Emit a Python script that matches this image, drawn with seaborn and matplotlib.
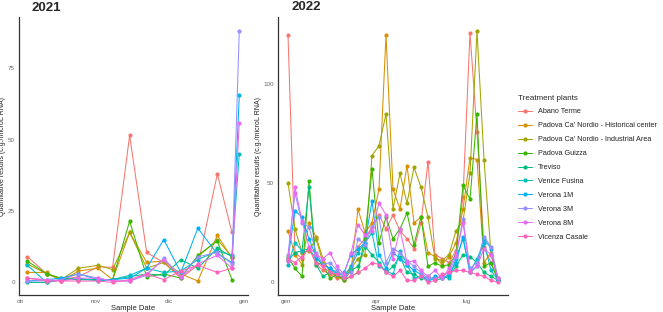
import pandas as pd
import numpy as np
import matplotlib
matplotlib.use("Agg")
import matplotlib.pyplot as plt
import seaborn as sns

# plants and colours (ggplot hue palette)
plants = ["Abano Terme", "Padova Ca' Nordio - Historical center",
          "Padova Ca' Nordio - Industrial Area", "Padova Guizza", "Treviso",
          "Venice Fusina", "Verona 1M", "Verona 3M", "Verona 8M", "Vicenza Casale"]
colors = ["#F8766D", "#D89000", "#A3A500", "#39B600", "#00BF7D",
          "#00BFC4", "#00B0F6", "#9590FF", "#E76BF3", "#FF62BC"]

# 2021 sampling
dates_2021 = pd.to_datetime(["2021-10-04", "2021-10-12", "2021-10-18", "2021-10-25",
                             "2021-11-02", "2021-11-08", "2021-11-15", "2021-11-22",
                             "2021-11-29", "2021-12-06", "2021-12-13", "2021-12-21",
                             "2021-12-27"])
vals_2021 = {
    "Abano Terme": [9, 3, 1, 2, 5.5, 5.3, 51.5, 10.5, 7, 1.5, 6, 38, 17.5],
    "Padova Ca' Nordio - Historical center": [3.5, 3.5, 0.5, 4, 5, 1, 17.5, 7, 7.5, 3, 0.5, 16.5, 8.5],
    "Padova Ca' Nordio - Industrial Area": [6.5, 3, 1, 5, 6, 4.5, 17.5, 5, 7, 2, 9, 15, 9],
    "Padova Guizza": [7.5, 3, 1.5, 1, 1, 1, 21.5, 2, 3, 1.5, 9.5, 14.5, 1],
    "Treviso": [0, 0, 1, 1, 1, 1, 2, 3, 2.5, 8, 5, 12, 9],
    "Venice Fusina": [6, 0, 1, 1.5, 0.5, 1, 2.5, 5, 3.5, 4, 8, 11, 9.5],
    "Verona 1M": [0.5, 1, 1.5, 3, 1, 1, 1.5, 5, 15, 3.5, 19, 10, 7],
    "Verona 3M": [0.5, 0.5, 1, 3, 1.5, 0.5, 0.5, 2.5, 8.5, 2, 9, 10.5, 6.5],
    "Verona 8M": [1.5, 1, 0.5, 1.5, 1.5, 0.5, 0.5, 3, 8, 2, 6.5, 9.5, 5],
    "Vicenza Casale": [1.5, 0.5, 0.5, 0.5, 0.5, 0, 1, 3, 1, 4, 6, 3.5, 5],
}
# last sample of December for some plants
last_date_2021 = pd.Timestamp("2021-12-30")
last_vals_2021 = {"Venice Fusina": 45, "Verona 1M": 65.5, "Verona 3M": 88, "Verona 8M": 56}

# 2022 sampling (weekly)
dates_2022 = pd.date_range("2022-01-03", "2022-08-01", freq="7D")
vals_2022 = {
    "Abano Terme": [125, 15, 12, 18, 9, 6, 4, 2, 3, 8, 18, 22, 28, 34, 27, 34, 26, 22, 17, 30, 61, 14, 12, 10, 16, 43, 126, 76, 18, 10, 1],
    "Padova Ca' Nordio - Historical center": [26, 14, 9, 30, 23, 12, 5, 3, 1, 6, 37, 25, 30, 47, 125, 47, 37, 59, 30, 33, 15, 13, 9, 13, 20, 37, 63, 62, 10, 15, 2],
    "Padova Ca' Nordio - Industrial Area": [50, 27, 15, 16, 22, 10, 6, 3, 2, 7, 12, 14, 64, 69, 85, 37, 55, 40, 58, 48, 33, 12, 11, 14, 26, 31, 55, 127, 62, 14, 2],
    "Padova Guizza": [13, 7, 3, 51, 10, 9, 2, 4, 1, 3, 5, 23, 57, 20, 33, 22, 27, 35, 19, 33, 8, 10, 8, 9, 14, 49, 42, 85, 8, 10, 1],
    "Treviso": [11, 15, 16, 48, 9, 3, 5, 4, 2, 6, 8, 18, 14, 10, 5, 8, 13, 5, 4, 2, 3, 1, 2, 3, 8, 14, 13, 10, 5, 3, 1],
    "Venice Fusina": [9, 20, 16, 17, 12, 9, 7, 5, 3, 8, 15, 20, 25, 8, 6, 4, 16, 9, 2, 3, 1, 2, 3, 2, 12, 22, 5, 12, 20, 6, 1],
    "Verona 1M": [12, 36, 33, 22, 13, 9, 7, 4, 5, 14, 17, 20, 41, 14, 7, 15, 12, 9, 6, 4, 1, 3, 2, 4, 10, 23, 5, 8, 22, 17, 1],
    "Verona 3M": [14, 45, 30, 28, 15, 9, 10, 6, 3, 5, 22, 19, 28, 33, 10, 17, 15, 11, 8, 5, 2, 2, 3, 5, 13, 32, 7, 10, 23, 18, 2],
    "Verona 8M": [11, 48, 31, 18, 14, 12, 15, 8, 4, 15, 29, 24, 26, 40, 34, 12, 27, 10, 11, 6, 3, 6, 2, 7, 14, 30, 6, 8, 17, 14, 2],
    "Vicenza Casale": [12, 10, 13, 17, 10, 8, 5, 4, 2, 3, 5, 7, 10, 9, 5, 3, 6, 1, 1, 3, 0, 1, 4, 5, 6, 6, 5, 4, 3, 1, 0],
}

# axis ticks
ticks_2021 = pd.to_datetime(["2021-10-01", "2021-11-01", "2021-12-01", "2022-01-01"])
ticklabels_2021 = ["ott", "nov", "dic", "gen"]
ticks_2022 = pd.to_datetime(["2022-01-01", "2022-04-01", "2022-07-01"])
ticklabels_2022 = ["gen", "apr", "lug"]
yticks_2021 = [0, 25, 50, 75]
yticks_2022 = [0, 50, 100]

# long tables
rows = []
for p in plants:
    for d, v in zip(dates_2021, vals_2021[p]):
        rows.append((p, d, v))
    if p in last_vals_2021:
        rows.append((p, last_date_2021, last_vals_2021[p]))
df21 = pd.DataFrame(rows, columns=["plant", "date", "value"])

rows = []
for p in plants:
    for d, v in zip(dates_2022, vals_2022[p]):
        rows.append((p, d, v))
df22 = pd.DataFrame(rows, columns=["plant", "date", "value"])

sns.set_style("white")
plt.rcParams["font.family"] = ["Liberation Sans", "DejaVu Sans"]

fig = plt.figure(figsize=(6.63, 3.12), dpi=100)
H, W = 312, 663
ax1 = fig.add_axes([19 / W, 1 - 295 / H, (248 - 19) / W, (295 - 17) / H])
ax2 = fig.add_axes([278 / W, 1 - 295 / H, (508 - 278) / W, (295 - 17) / H])

pal = dict(zip(plants, colors))
for ax, df in [(ax1, df21), (ax2, df22)]:
    sns.lineplot(data=df, x="date", y="value", hue="plant", hue_order=plants,
                 palette=pal, marker="o", markersize=3, markeredgewidth=0,
                 linewidth=0.75, ax=ax, legend=(ax is ax1), estimator=None,
                 sort=True)

ax1.set_xlim(pd.Timestamp("2021-09-30 14:00"), pd.Timestamp("2022-01-02 14:00"))
ax1.set_ylim(-4.4, 93)
ax2.set_xlim(pd.Timestamp("2021-12-24"), pd.Timestamp("2022-08-11"))
ax2.set_ylim(-6.4, 134)

ax1.set_xticks(ticks_2021)
ax1.set_xticklabels(ticklabels_2021)
ax1.set_yticks(yticks_2021)
ax2.set_xticks(ticks_2022)
ax2.set_xticklabels(ticklabels_2022)
ax2.set_yticks(yticks_2022)

for ax in (ax1, ax2):
    for s in ["top", "right"]:
        ax.spines[s].set_visible(False)
    for s in ["left", "bottom"]:
        ax.spines[s].set_color("#333333")
        ax.spines[s].set_linewidth(0.9)
    ax.tick_params(axis="both", length=2, width=0.5, color="#555555",
                   labelsize=4.5, labelcolor="#666666", pad=1)
    ax.set_xlabel("Sample Date", fontsize=5.5, color="#222222", labelpad=0.5)
    ax.set_ylabel("Quantitative results (c.g./microL RNA)", fontsize=5,
                  color="#222222", labelpad=1)
    ax.grid(False)

fig.text(32 / W, 1 - 8 / H, "2021", fontsize=9.5, fontweight="bold", va="center", ha="left")
fig.text(291 / W, 1 - 7 / H, "2022", fontsize=9.5, fontweight="bold", va="center", ha="left")

handles, labels = ax1.get_legend_handles_labels()
ax1.get_legend().remove()
leg = fig.legend(handles, labels, loc="upper left",
                 bbox_to_anchor=(511 / W, 1 - 88 / H), frameon=False,
                 title="Treatment plants", fontsize=5.2, title_fontsize=5.8,
                 handlelength=2.0, labelspacing=0.95, handletextpad=0.8)
leg._legend_box.align = "left"
for t in leg.get_texts():
    t.set_color("#222222")

fig.savefig("out.png", dpi=100)
